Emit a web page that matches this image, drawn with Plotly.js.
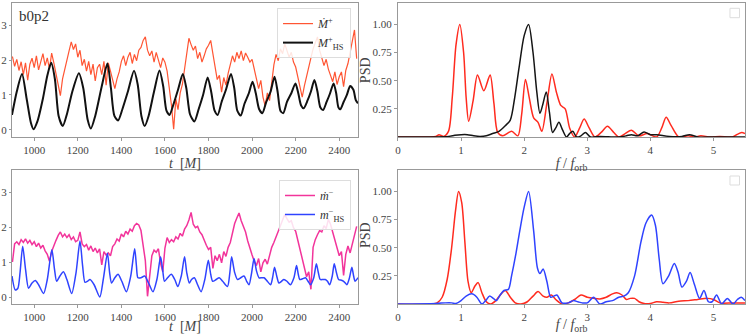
<!DOCTYPE html>
<html>
<head>
<meta charset="utf-8">
<script src="https://cdn.plot.ly/plotly-3.0.1.min.js"></script>
<style>
  html, body { margin: 0; padding: 0; background: #fff; }
  #chart { width: 748px; height: 334px; }
</style>
</head>
<body>
<div id="chart"></div>
<script>
// accretion rates (left) and their power spectra (right), run b0p2

// Mdot+ sampled every 10 M from t = 900
var mdotPlusStart = 900;
var mdotPlus = [
    2.10, 1.82, 2.02, 1.70, 1.95, 1.58, 1.92, 1.42, 1.88, 2.05,
    1.78, 2.12, 1.72, 1.98, 2.18, 1.84, 2.06, 1.74, 2.20, 1.92,
    1.62, 1.28, 0.98, 1.46, 1.70, 2.02, 2.26, 2.52, 2.30, 2.46,
    2.08, 2.28, 1.84, 2.02, 1.68, 1.96, 1.58, 1.88, 1.40, 1.78,
    1.88, 1.58, 1.96, 1.28, 1.92, 1.68, 1.44, 1.18, 1.46, 1.66,
    1.96, 2.12, 1.84, 2.08, 2.22, 1.90, 2.16, 1.98, 2.28, 2.36,
    2.56, 2.66, 2.28, 2.12, 2.26, 1.94, 2.22, 1.98, 1.78, 2.06,
    1.94, 1.68, 1.18, 0.70, 0.02, 0.88, 0.58, 1.06, 1.30, 1.76,
    2.22, 2.62, 2.44, 2.28, 2.40, 2.04, 2.22, 1.94, 2.12, 2.32,
    2.42, 2.56, 2.18, 1.80, 1.44, 1.56, 1.08, 1.50, 1.28, 1.62,
    1.84, 2.12, 1.94, 2.22, 2.04, 2.26, 1.98, 2.20, 2.08, 1.94,
    2.02, 1.74, 1.52, 1.18, 1.42, 0.94, 0.68, 1.06, 0.84, 1.32,
    1.86, 2.16, 1.98, 2.32, 2.18, 2.46, 2.24, 2.08, 2.22, 1.94,
    1.80, 1.48, 1.16, 0.94, 1.26, 1.56, 1.82, 2.06, 2.32, 2.50,
    2.66, 2.28, 2.06, 1.84, 2.02, 1.74, 1.56, 1.38, 1.66, 1.30,
    1.52, 1.66, 1.24, 1.70, 1.90, 2.20, 2.46, 2.86, 2.04
];

// M+_HS
var tHsPlus = [
    898, 920, 944, 965, 985, 997, 1015, 1040, 1060, 1078, 1095, 1112, 1131, 1150, 1175,
    1205, 1225, 1245, 1260, 1280, 1310, 1336, 1352, 1368, 1385, 1405, 1430, 1458, 1475,
    1492, 1507, 1525, 1550, 1575, 1592, 1607, 1621, 1640, 1660, 1682, 1698, 1715, 1735,
    1755, 1775, 1796, 1812, 1828, 1842, 1860, 1880, 1903, 1918, 1932, 1948, 1965, 1985,
    2002, 2017, 2032, 2047, 2065, 2085, 2103, 2117, 2130, 2143, 2160, 2180, 2199, 2212,
    2225, 2237, 2255, 2270, 2286, 2300, 2313, 2326, 2342, 2358, 2374, 2386, 2396, 2405,
    2420, 2435, 2450, 2465, 2476, 2486
];
var mHsPlus = [
    0.43, 1.10, 1.60, 0.90, 0.20, 0.02, 0.25, 0.90, 1.55, 1.92, 1.45, 0.40, 0.11, 0.45, 1.10,
    1.62, 1.20, 0.30, 0.04, 0.40, 1.25, 1.90, 1.20, 0.40, 0.27, 0.60, 1.10, 1.69, 1.30,
    0.40, 0.11, 0.40, 1.10, 1.70, 1.25, 0.55, 0.43, 0.75, 1.15, 1.60, 1.20, 0.45, 0.24,
    0.60, 1.00, 1.50, 1.10, 0.55, 0.43, 0.80, 1.15, 1.60, 1.20, 0.55, 0.41, 0.75, 1.05,
    1.38, 1.05, 0.60, 0.48, 0.80, 1.10, 1.52, 1.10, 0.55, 0.48, 0.80, 1.05, 1.33, 1.05,
    0.70, 0.62, 0.85, 1.10, 1.43, 1.10, 0.65, 0.57, 0.80, 1.05, 1.33, 1.05, 0.65, 0.59,
    0.80, 1.00, 1.26, 1.15, 0.85, 0.76
];

// mdot- sampled every 10 M from t = 900
var mdotMinusStart = 900;
var mdotMinus = [
    1.00, 1.52, 1.58, 1.50, 1.64, 1.56, 1.66, 1.54, 1.62, 1.50,
    1.58, 1.44, 1.54, 1.40, 1.48, 1.32, 1.22, 1.02, 1.30, 1.48,
    1.62, 1.76, 1.86, 1.72, 1.80, 1.70, 1.78, 1.64, 1.72, 1.58,
    1.62, 1.86, 1.52, 1.44, 1.50, 1.34, 1.46, 1.30, 1.40, 1.26,
    1.38, 0.92, 1.30, 1.20, 1.26, 1.18, 1.44, 1.52, 1.66, 1.60,
    1.80, 1.72, 1.88, 1.80, 1.94, 1.88, 2.04, 2.10, 2.06, 1.90,
    1.52, 1.04, 0.02, 0.68, 1.18, 1.34, 1.28, 1.38, 0.96, 0.72,
    1.40, 1.70, 1.56, 1.64, 1.58, 1.72, 1.66, 1.82, 1.74, 1.94,
    2.04, 2.20, 2.42, 2.08, 1.98, 2.02, 1.86, 1.78, 1.62, 1.48,
    1.36, 1.42, 0.82, 1.18, 1.04, 1.22, 0.98, 1.30, 1.16, 1.42,
    1.56, 1.86, 2.10, 2.26, 2.40, 2.18, 2.04, 1.86, 1.60, 1.38,
    1.20, 1.02, 0.90, 1.10, 0.72, 0.98, 1.08, 0.94, 1.22, 1.42,
    1.56, 1.74, 1.90, 2.04, 2.20, 2.36, 2.24, 2.14, 2.18, 1.98,
    1.88, 1.62, 1.38, 1.08, 0.86, 0.58, 0.72, 0.22, 1.42, 1.64,
    1.78, 1.90, 1.86, 2.04, 1.96, 2.22, 2.08, 1.84, 1.64, 1.40,
    1.18, 1.30, 0.62, 1.22, 1.46, 1.26, 1.52, 1.72, 2.02
];

// m-_HS
var tHsMinus = [
    898, 913, 925, 935, 947, 960, 974, 990, 1005, 1020, 1043, 1060, 1081, 1093, 1103, 1118,
    1134, 1150, 1172, 1192, 1210, 1222, 1233, 1245, 1256, 1275, 1301, 1318, 1336, 1346,
    1355, 1370, 1385, 1402, 1423, 1443, 1461, 1469, 1476, 1490, 1507, 1525, 1545, 1563,
    1580, 1590, 1598, 1612, 1629, 1645, 1659, 1675, 1690, 1700, 1712, 1722, 1735, 1750,
    1766, 1783, 1799, 1810, 1819, 1835, 1849, 1865, 1887, 1898, 1906, 1920, 1933, 1948,
    1963, 1975, 1986, 1998, 2009, 2020, 2032, 2044, 2055, 2070, 2085, 2094, 2103, 2113,
    2123, 2135, 2146, 2160, 2176, 2192, 2204, 2212, 2219, 2232, 2245, 2257, 2268, 2283,
    2295, 2304, 2313, 2325, 2336, 2346, 2356, 2368, 2377, 2387, 2397, 2410, 2420, 2428,
    2435, 2447, 2458, 2466, 2473, 2486
];
var mHsMinus = [
    0.60, 0.20, 0.25, 0.70, 1.45, 0.80, 0.25, 0.40, 0.47, 0.35, 0.10, 0.50, 1.35, 0.80, 0.45, 0.60,
    0.72, 0.50, 0.10, 0.70, 1.60, 0.90, 0.42, 0.45, 0.50, 0.35, 0.00, 0.55, 1.25, 0.70,
    0.40, 0.55, 0.65, 0.45, 0.15, 0.60, 1.38, 0.90, 0.55, 0.55, 0.60, 0.40, 0.15, 0.50,
    1.15, 0.75, 0.45, 0.55, 0.65, 0.50, 0.30, 0.60, 1.15, 0.70, 0.40, 0.50, 0.55, 0.35,
    0.15, 0.50, 1.05, 0.65, 0.45, 0.50, 0.55, 0.45, 0.30, 0.70, 1.15, 0.70, 0.50, 0.55,
    0.60, 0.45, 0.35, 0.70, 1.10, 0.75, 0.55, 0.55, 0.55, 0.45, 0.35, 0.55, 0.85, 0.60,
    0.40, 0.45, 0.50, 0.45, 0.35, 0.55, 0.90, 0.65, 0.50, 0.52, 0.55, 0.45, 0.35, 0.55,
    0.95, 0.70, 0.50, 0.50, 0.50, 0.45, 0.35, 0.60, 0.95, 0.70, 0.50, 0.48, 0.45, 0.40,
    0.35, 0.55, 0.85, 0.60, 0.45, 0.55
];

// PSD, top row
var fPsdMdotPlus = [
    0, 0.5, 0.6, 0.65, 0.72, 0.8, 0.86, 0.92, 0.98, 1.04,
    1.08, 1.12, 1.19, 1.26, 1.36, 1.46, 1.52, 1.58, 1.66, 1.8,
    1.9, 1.96, 2.02, 2.08, 2.15, 2.22, 2.28, 2.36, 2.44, 2.51,
    2.58, 2.65, 2.72, 2.8, 2.88, 2.95, 3.03, 3.12, 3.22, 3.32,
    3.42, 3.5, 3.6, 3.7, 3.82, 3.95, 4.1, 4.18, 4.25, 4.33,
    4.45, 4.6, 4.7, 4.8, 4.95, 5.1, 5.3, 5.4, 5.45, 5.5
];
var psdMdotPlus = [
    0, 0, 0.005, 0.02, 0.005, 0.05, 0.35, 0.82, 1.00, 0.75,
    0.35, 0.14, 0.32, 0.55, 0.41, 0.55, 0.30, 0.04, 0.01, 0.05,
    0.01, 0.20, 0.51, 0.35, 0.17, 0.13, 0.05, 0.30, 0.56, 0.40,
    0.28, 0.25, 0.08, 0.00, 0.08, 0.16, 0.08, 0.00, 0.04, 0.095,
    0.04, 0.00, 0.03, 0.06, 0.01, 0.03, 0.00, 0.08, 0.175, 0.10,
    0.00, 0.01, 0.00, 0.01, 0.00, 0.005, 0.00, 0.03, 0.04, 0.03
];
var fPsdHsPlus = [
    0, 0.8, 0.9, 1.0, 1.1, 1.2, 1.3, 1.4, 1.5, 1.6,
    1.7, 1.78, 1.85, 1.92, 2.0, 2.07, 2.14, 2.2, 2.25, 2.3,
    2.35, 2.4, 2.45, 2.5, 2.55, 2.61, 2.67, 2.72, 2.77, 2.83,
    2.9, 2.97, 3.05, 3.2, 3.5, 3.62, 3.7, 3.8, 3.9, 4.0,
    4.1, 4.3, 4.5, 4.62, 4.75, 5.0, 5.5
];
var psdHsPlus = [
    0, 0.005, 0.015, 0.02, 0.02, 0.01, 0.005, 0.01, 0.03, 0.05,
    0.10, 0.15, 0.35, 0.62, 0.90, 1.00, 0.75, 0.40, 0.21, 0.30,
    0.40, 0.22, 0.04, 0.08, 0.13, 0.06, 0.00, 0.03, 0.05, 0.00,
    0.01, 0.04, 0.00, 0.005, 0.00, 0.01, 0.02, 0.01, 0.045, 0.02,
    0.02, 0.005, 0.005, 0.02, 0.00, 0.00, 0.00
];

// PSD, bottom row
var fPsdMdotMinus = [
    0, 0.55, 0.62, 0.7, 0.78, 0.85, 0.91, 0.96, 1.01, 1.06,
    1.11, 1.16, 1.22, 1.27, 1.33, 1.4, 1.47, 1.55, 1.62, 1.7,
    1.78, 1.86, 1.95, 2.05, 2.14, 2.22, 2.3, 2.36, 2.43, 2.5,
    2.6, 2.7, 2.8, 2.9, 3.0, 3.1, 3.2, 3.3, 3.4, 3.47,
    3.55, 3.62, 3.68, 3.75, 3.82, 3.9, 4.0, 4.1, 4.2, 4.3,
    4.45, 4.6, 4.75, 4.9, 5.0, 5.1, 5.3, 5.5
];
var psdMdotMinus = [
    0, 0, 0.01, 0.06, 0.22, 0.50, 0.82, 1.00, 0.90, 0.55,
    0.20, 0.10, 0.16, 0.19, 0.10, 0.02, 0.00, 0.03, 0.08, 0.12,
    0.06, 0.01, 0.00, 0.02, 0.07, 0.11, 0.07, 0.06, 0.08, 0.04,
    0.00, 0.01, 0.04, 0.08, 0.06, 0.05, 0.045, 0.06, 0.09, 0.10,
    0.08, 0.04, 0.05, 0.05, 0.02, 0.005, 0.005, 0.02, 0.015, 0.01,
    0.025, 0.03, 0.04, 0.05, 0.04, 0.01, 0.01, 0.01
];
var fPsdHsMinus = [
    0, 0.6, 0.75, 0.85, 0.92, 1.0, 1.08, 1.17, 1.25, 1.33,
    1.39, 1.45, 1.51, 1.56, 1.62, 1.68, 1.75, 1.8, 1.87, 1.93,
    2.0, 2.07, 2.15, 2.21, 2.25, 2.3, 2.36, 2.42, 2.47, 2.52,
    2.6, 2.7, 2.78, 2.85, 2.92, 3.0, 3.1, 3.2, 3.3, 3.4,
    3.5, 3.58, 3.65, 3.75, 3.85, 3.93, 4.02, 4.08, 4.14, 4.2,
    4.29, 4.38, 4.44, 4.5, 4.57, 4.63, 4.7, 4.78, 4.85, 4.92,
    4.98, 5.05, 5.13, 5.22, 5.31, 5.38, 5.44, 5.5
];
var psdHsMinus = [
    0, 0.005, 0.01, 0.01, 0.005, 0.03, 0.07, 0.09, 0.06, 0.00,
    0.03, 0.07, 0.05, 0.03, 0.08, 0.12, 0.13, 0.25, 0.45, 0.65,
    0.86, 1.00, 0.65, 0.32, 0.27, 0.31, 0.20, 0.06, 0.07, 0.08,
    0.01, 0.01, 0.03, 0.02, 0.01, 0.01, 0.06, 0.00, 0.02, 0.03,
    0.06, 0.07, 0.10, 0.25, 0.55, 0.72, 0.79, 0.70, 0.40, 0.18,
    0.25, 0.36, 0.28, 0.15, 0.20, 0.28, 0.17, 0.05, 0.12, 0.02,
    0.02, 0.08, 0.00, 0.05, 0.00, 0.04, 0.06, 0.03
];

var tTicks = [1000, 1200, 1400, 1600, 1800, 2000, 2200, 2400];
var rateTicks = [0, 1, 2, 3];
var fTicks = [0, 1, 2, 3, 4, 5];
var psdTicks = [0.25, 0.5, 0.75, 1.0];
var psdTickText = ['0.25', '0.50', '0.75', '1.00'];

var serif = '"Liberation Serif", "DejaVu Serif", serif';
var gray = '#999';
var textGray = '#444';

function baseAxis() {
    return {
        showline: true,
        mirror: true,
        linecolor: gray,
        linewidth: 1,
        ticks: 'outside',
        ticklen: 3,
        tickcolor: gray,
        showgrid: false,
        zeroline: false,
        tickfont: { family: serif, size: 11, color: textGray }
    };
}

function timeAxis(domain, anchor) {
    var a = baseAxis();
    a.domain = domain;
    a.anchor = anchor;
    a.range = [898, 2486];
    a.tickvals = tTicks;
    a.title = { text: '<i>t</i>  [<i>M</i>]', font: { family: serif, size: 14, color: textGray }, standoff: 2 };
    return a;
}

function freqAxis(domain, anchor) {
    var a = baseAxis();
    a.domain = domain;
    a.anchor = anchor;
    a.range = [0, 5.5];
    a.tickvals = fTicks;
    a.title = { text: '<i>f</i> / <i>f</i><sub>orb</sub>', font: { family: serif, size: 14, color: textGray }, standoff: 0 };
    return a;
}

function rateAxis(domain, anchor) {
    var a = baseAxis();
    a.domain = domain;
    a.anchor = anchor;
    a.range = [-0.2, 3.63];
    a.tickvals = rateTicks;
    a.ticklen = 2;
    return a;
}

function psdAxis(domain, anchor) {
    var a = baseAxis();
    a.domain = domain;
    a.anchor = anchor;
    a.range = [0, 1.19];
    a.tickvals = psdTicks;
    a.ticktext = psdTickText;
    return a;
}

var data = [
    {
        x0: mdotPlusStart, dx: 10, y: mdotPlus,
        xaxis: 'x', yaxis: 'y', mode: 'lines', type: 'scatter',
        name: '<i>Ṁ</i><sup>+</sup>', legend: 'legend',
        line: { color: '#ff5533', width: 1.2 }
    },
    {
        x: tHsPlus, y: mHsPlus,
        xaxis: 'x', yaxis: 'y', mode: 'lines', type: 'scatter',
        name: '<i>M</i><sup>+</sup><sub>HS</sub>', legend: 'legend',
        line: { color: '#111', width: 2, shape: 'spline', smoothing: 0.7 }
    },
    {
        x: fPsdMdotPlus, y: psdMdotPlus,
        xaxis: 'x2', yaxis: 'y2', mode: 'lines', type: 'scatter', showlegend: false,
        line: { color: '#ff2b1f', width: 1.5, shape: 'spline', smoothing: 0.8 }
    },
    {
        x: fPsdHsPlus, y: psdHsPlus,
        xaxis: 'x2', yaxis: 'y2', mode: 'lines', type: 'scatter', showlegend: false,
        line: { color: '#151515', width: 1.5, shape: 'spline', smoothing: 0.8 }
    },
    {
        x0: mdotMinusStart, dx: 10, y: mdotMinus,
        xaxis: 'x3', yaxis: 'y3', mode: 'lines', type: 'scatter',
        name: '<i>ṁ</i><sup>−</sup>', legend: 'legend2',
        line: { color: '#f2349b', width: 1.5 }
    },
    {
        x: tHsMinus, y: mHsMinus,
        xaxis: 'x3', yaxis: 'y3', mode: 'lines', type: 'scatter',
        name: '<i>m</i><sup>−</sup><sub>HS</sub>', legend: 'legend2',
        line: { color: '#2f43ff', width: 1.5, shape: 'spline', smoothing: 0.7 }
    },
    {
        x: fPsdMdotMinus, y: psdMdotMinus,
        xaxis: 'x4', yaxis: 'y4', mode: 'lines', type: 'scatter', showlegend: false,
        line: { color: '#ff2b1f', width: 1.5, shape: 'spline', smoothing: 0.8 }
    },
    {
        x: fPsdHsMinus, y: psdHsMinus,
        xaxis: 'x4', yaxis: 'y4', mode: 'lines', type: 'scatter', showlegend: false,
        line: { color: '#2f43ff', width: 1.5, shape: 'spline', smoothing: 0.8 }
    }
];

// plot area: 12..745 px across, 3..304 px down
var leftDom = [0, 0.472];
var rightDom = [0.5266, 1];
var topDom = [0.555, 1];
var botDom = [0, 0.445];

function legendBox(yTop) {
    return {
        x: 0.4625, xanchor: 'right',
        y: yTop, yanchor: 'top',
        bgcolor: 'rgba(255,255,255,0.85)',
        bordercolor: '#ddd', borderwidth: 1,
        font: { family: serif, size: 12, color: '#333' },
        tracegroupgap: 0
    };
}

function psdLabel(yMid) {
    return {
        text: 'PSD', xref: 'paper', yref: 'paper',
        x: 0.4816, y: yMid, xanchor: 'center', yanchor: 'middle',
        textangle: -90, showarrow: false,
        font: { family: serif, size: 14, color: textGray }
    };
}

var layout = {
    width: 748,
    height: 334,
    margin: { l: 12, r: 3, t: 3, b: 30 },
    paper_bgcolor: '#fff',
    plot_bgcolor: '#fff',
    showlegend: true,
    legend: legendBox(0.983),
    legend2: legendBox(0.412),
    xaxis: timeAxis(leftDom, 'y'),
    yaxis: rateAxis(topDom, 'x'),
    xaxis2: freqAxis(rightDom, 'y2'),
    yaxis2: psdAxis(topDom, 'x2'),
    xaxis3: timeAxis(leftDom, 'y3'),
    yaxis3: rateAxis(botDom, 'x3'),
    xaxis4: freqAxis(rightDom, 'y4'),
    yaxis4: psdAxis(botDom, 'x4'),
    annotations: [
        {
            text: 'b0p2', xref: 'paper', yref: 'paper',
            x: 0.0068, y: 0.99, xanchor: 'left', yanchor: 'top',
            showarrow: false, font: { family: serif, size: 15, color: '#333' }
        },
        psdLabel(0.777),
        psdLabel(0.229)
    ],
    // the empty legend frames on the PSD panels
    shapes: [
        { type: 'rect', xref: 'paper', yref: 'paper', x0: 0.9795, x1: 0.9925, y0: 0.9512, y1: 0.9824,
          line: { color: '#ddd', width: 1 }, fillcolor: 'rgba(0,0,0,0)' },
        { type: 'rect', xref: 'paper', yref: 'paper', x0: 0.9795, x1: 0.9925, y0: 0.3953, y1: 0.4252,
          line: { color: '#ddd', width: 1 }, fillcolor: 'rgba(0,0,0,0)' }
    ]
};

Plotly.newPlot('chart', data, layout, { staticPlot: true });
</script>
</body>
</html>
